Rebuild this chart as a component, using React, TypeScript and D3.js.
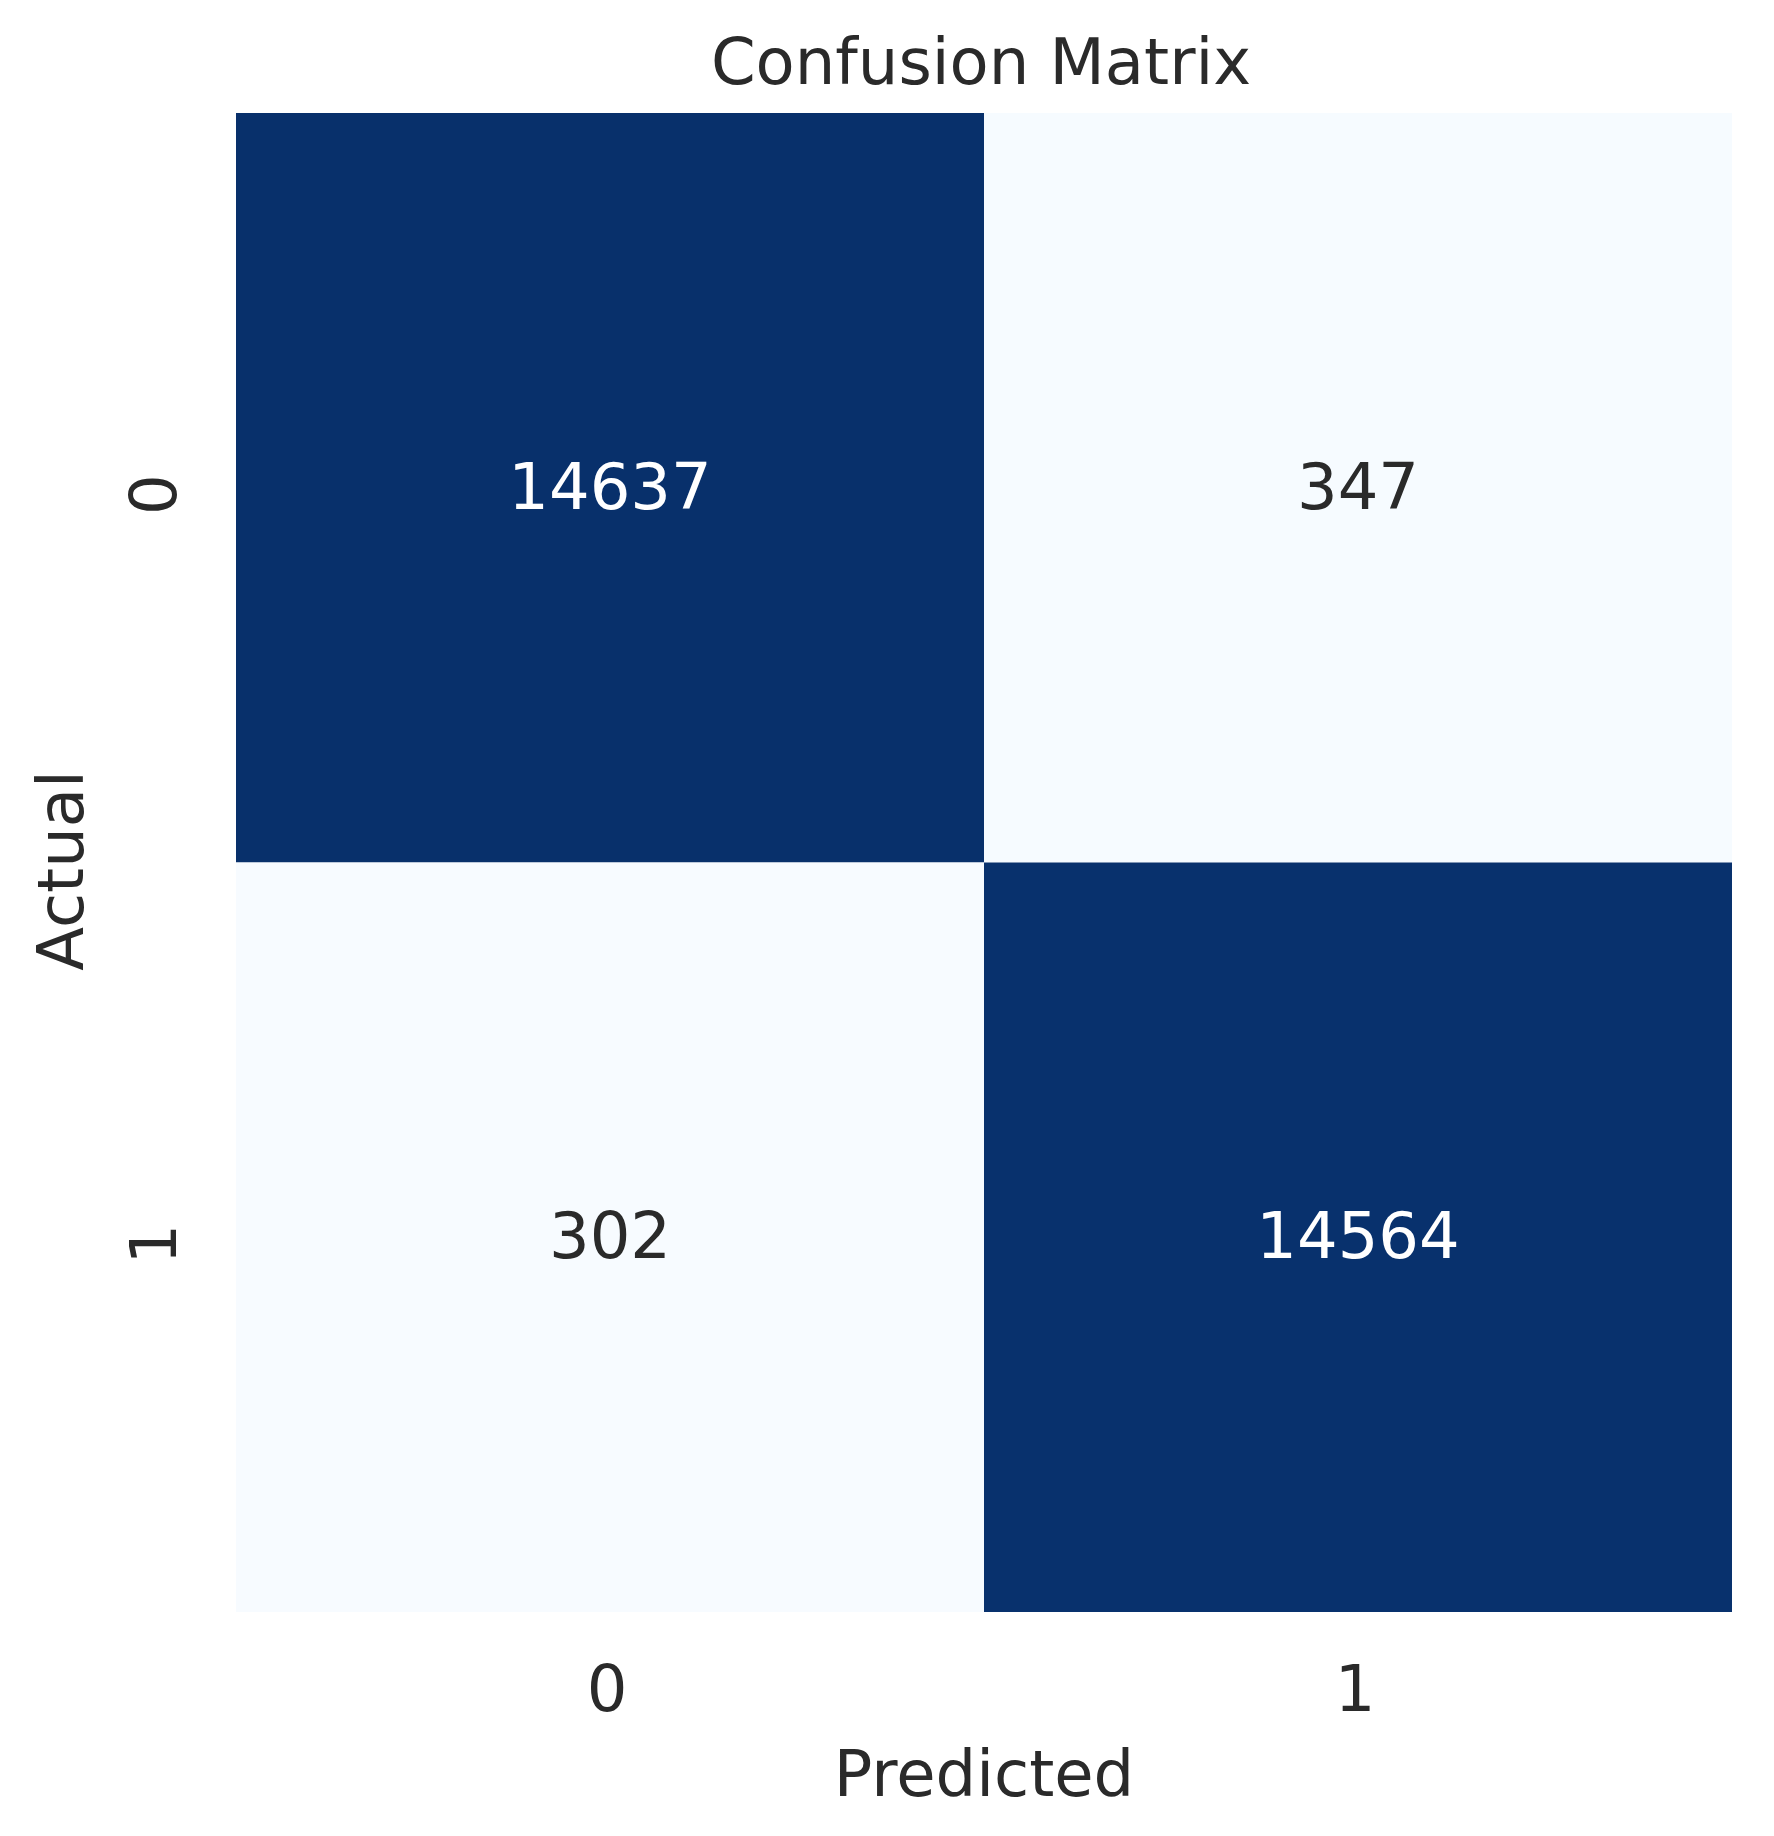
import React from "react";
import * as d3 from "d3";

const actualLabels = ["0", "1"];
const predictedLabels = ["0", "1"];
const matrixValues = [
  [14637, 347],
  [302, 14564],
];
const titleText = "Confusion Matrix";
const xLabel = "Predicted";
const yLabel = "Actual";

const W = 1774;
const H = 1836;
const left = 236;
const right = 1732;
const top = 113;
const bottom = 1612;
const FONT = "'DejaVu Sans', sans-serif";
const FS = 64;
const TEXT = "#2a2a2a";

export default function App() {
  const x = d3.scaleBand<string>().domain(predictedLabels).range([left, right]).padding(0);
  const y = d3.scaleBand<string>().domain(actualLabels).range([top, bottom]).padding(0);
  const flat = matrixValues.flat();
  const color = d3
    .scaleSequential(d3.interpolateBlues)
    .domain([d3.min(flat) as number, d3.max(flat) as number]);
  const cells: { r: string; c: string; v: number }[] = [];
  actualLabels.forEach((r, i) =>
    predictedLabels.forEach((c, j) => cells.push({ r, c, v: matrixValues[i][j] }))
  );
  const mid = (d3.min(flat)! + d3.max(flat)!) / 2;

  return (
    <svg
      width={W}
      height={H}
      style={{ position: "absolute", left: 0, top: 0, background: "#fff" }}
      fontFamily={FONT}
    >
      <rect x={0} y={0} width={W} height={H} fill="#fff" />
      {cells.map((d) => (
        <rect
          key={d.r + d.c}
          x={x(d.c)}
          y={y(d.r)}
          width={x.bandwidth()}
          height={y.bandwidth()}
          fill={color(d.v)}
        />
      ))}
      {cells.map((d) => (
        <text
          key={"t" + d.r + d.c}
          x={(x(d.c) as number) + x.bandwidth() / 2}
          y={(y(d.r) as number) + y.bandwidth() / 2 + FS * 0.36 - 2}
          textAnchor="middle"
          fontSize={FS}
          fill={d.v > mid ? "#ffffff" : TEXT}
        >
          {d.v}
        </text>
      ))}
      {predictedLabels.map((c) => (
        <text
          key={"xt" + c}
          x={(x(c) as number) + x.bandwidth() / 2 - 3}
          y={1711}
          textAnchor="middle"
          fontSize={FS}
          fill={TEXT}
        >
          {c}
        </text>
      ))}
      {actualLabels.map((r) => {
        const cy = (y(r) as number) + y.bandwidth() / 2 + 7;
        return (
          <text
            key={"yt" + r}
            transform={`translate(176,${cy}) rotate(-90)`}
            textAnchor="middle"
            fontSize={FS}
            fill={TEXT}
          >
            {r}
          </text>
        );
      })}
      <text
        x={(left + right) / 2}
        y={1796}
        textAnchor="middle"
        fontSize={FS}
        fill={TEXT}
      >
        {xLabel}
      </text>
      <text
        transform={`translate(83,${(top + bottom) / 2 + 8}) rotate(-90)`}
        textAnchor="middle"
        fontSize={FS}
        fill={TEXT}
      >
        {yLabel}
      </text>
      <text
        x={(left + right) / 2 - 3}
        y={84}
        textAnchor="middle"
        fontSize={FS}
        fill={TEXT}
      >
        {titleText}
      </text>
    </svg>
  );
}
